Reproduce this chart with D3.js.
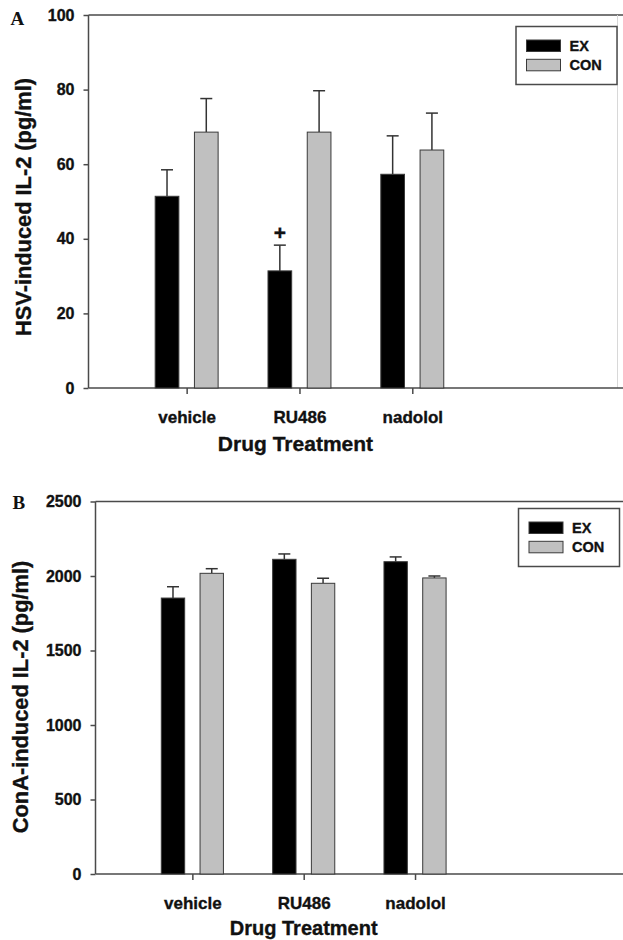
<!DOCTYPE html>
<html>
<head>
<meta charset="utf-8">
<script src="https://cdn.jsdelivr.net/npm/d3@7"></script>
<style>
  html, body { margin: 0; padding: 0; background: #fff; }
  svg { display: block; }
  text { font-family: Arial, "Liberation Sans", Helvetica, sans-serif; font-weight: bold; fill: #111; }
  .heavy { stroke: #111; stroke-width: 0.35px; }
</style>
</head>
<body>
<script>
// ---------- data ----------
const categories = ["vehicle", "RU486", "nadolol"];
const seriesNames = ["EX", "CON"];

const hsvEX = [51.4, 31.4, 57.3];
const hsvEXerr = [7.1, 6.9, 10.3];
const hsvCON = [68.6, 68.6, 63.8];
const hsvCONerr = [9.0, 11.1, 9.9];

const conaEX = [1852, 2112, 2096];
const conaEXerr = [76, 36, 32];
const conaCON = [2018, 1951, 1987];
const conaCONerr = [31, 34, 13];

const hsvTicks = [0, 20, 40, 60, 80, 100];
const conaTicks = [0, 500, 1000, 1500, 2000, 2500];

const sigMarks = [{ panel: "A", series: "EX", category: "RU486", label: "+" }];

// ---------- drawing ----------
const W = 623, H = 940;
const svg = d3.select("body").append("svg").attr("width", W).attr("height", H);

const colors = { EX: "#000000", CON: "#c0c0c0" };
const axisColor = "#4a4a4a";

function panel(opts) {
  const g = svg.append("g");
  const { left, right, top, bottom, yMax, ticks, ex, exErr, con, conErr } = opts;

  const x = d3.scaleLinear().domain([-0.87, 3.85]).range([left, right]);
  const y = d3.scaleLinear().domain([0, yMax]).range([bottom, top]);
  const unit = x(1) - x(0);
  const barW = 0.21 * unit;
  const off = 0.174 * unit;

  // frame: top line
  g.append("line").attr("x1", left).attr("x2", W).attr("y1", top).attr("y2", top)
    .attr("stroke", axisColor).attr("stroke-width", 1.5);
  if (opts.rightBorder) {
    g.append("line").attr("x1", opts.rightBorder).attr("x2", opts.rightBorder)
      .attr("y1", top).attr("y2", bottom).attr("stroke", "#d8d8d8").attr("stroke-width", 1);
  }

  // y axis
  const yAxis = d3.axisLeft(y).tickValues(ticks).tickSize(5).tickPadding(9).tickFormat(d3.format("d"));
  const ya = g.append("g").attr("transform", `translate(${left},0)`).call(yAxis);
  ya.select(".domain").attr("stroke", axisColor).attr("stroke-width", 1.5)
    .attr("d", `M0,${top}V${bottom}`);
  ya.selectAll(".tick line").attr("stroke", axisColor).attr("stroke-width", 1.5);
  ya.selectAll(".tick text").attr("font-size", 16).attr("font-family", "Arial, 'Liberation Sans', sans-serif")
    .attr("font-weight", "bold").attr("fill", "#111").attr("class", "heavy");

  // x axis
  const xAxis = d3.axisBottom(x).tickValues(d3.range(categories.length)).tickSize(6)
    .tickPadding(12).tickFormat(i => categories[i]);
  const xa = g.append("g").attr("transform", `translate(0,${bottom})`).call(xAxis);
  xa.select(".domain").attr("stroke", axisColor).attr("stroke-width", 1.5)
    .attr("d", `M${left},0H${W}`);
  xa.selectAll(".tick line").attr("stroke", axisColor).attr("stroke-width", 1.5);
  xa.selectAll(".tick text").attr("font-size", 17).attr("font-family", "Arial, 'Liberation Sans', sans-serif")
    .attr("font-weight", "bold").attr("fill", "#111").attr("dy", "1.02em").attr("class", "heavy");

  // bars
  const rows = [];
  categories.forEach((c, i) => {
    rows.push({ s: "EX", i, v: ex[i], e: exErr[i], dx: -off });
    rows.push({ s: "CON", i, v: con[i], e: conErr[i], dx: off });
  });

  // error bars (drawn first so bar top edge overlays)
  const eb = g.append("g");
  rows.forEach(r => {
    const cx = x(r.i) + r.dx;
    eb.append("line").attr("x1", cx).attr("x2", cx).attr("y1", y(r.v)).attr("y2", y(r.v + r.e))
      .attr("stroke", "#333").attr("stroke-width", 1.5);
    eb.append("line").attr("x1", cx - 6).attr("x2", cx + 6).attr("y1", y(r.v + r.e)).attr("y2", y(r.v + r.e))
      .attr("stroke", "#333").attr("stroke-width", 1.5);
  });

  g.append("g").selectAll("rect").data(rows).join("rect")
    .attr("x", r => x(r.i) + r.dx - barW / 2)
    .attr("width", barW)
    .attr("y", r => y(r.v))
    .attr("height", r => y(0) - y(r.v))
    .attr("fill", r => colors[r.s])
    .attr("stroke", "#3a3a3a").attr("stroke-width", 1);

  // significance marks
  sigMarks.filter(m => m.panel === opts.name).forEach(m => {
    const i = categories.indexOf(m.category);
    const r = rows.find(rr => rr.i === i && rr.s === m.series);
    g.append("text").attr("x", x(i) + r.dx).attr("y", y(r.v + r.e) - 5)
      .attr("text-anchor", "middle").attr("font-size", 21).attr("class", "heavy").text(m.label);
  });

  // x title
  g.append("text").attr("x", x(1) + opts.xTitleDx).attr("y", opts.xTitleY)
    .attr("text-anchor", "middle").attr("font-size", opts.xTitleSize).attr("class", "heavy").text("Drug Treatment");

  // y title
  g.append("text")
    .attr("transform", `translate(${opts.yTitleX},${opts.yTitleCY}) rotate(-90)`)
    .attr("text-anchor", "middle").attr("font-size", 21.8).attr("class", "heavy").text(opts.yTitle);

  // panel letter
  g.append("text").attr("x", opts.letterX).attr("y", opts.letterY)
    .style("font-family", "'Liberation Serif', 'Times New Roman', serif")
    .attr("font-size", 19).text(opts.name);

  // legend
  const L = opts.legend;
  g.append("rect").attr("x", L.x).attr("y", L.y).attr("width", 101).attr("height", 58)
    .attr("fill", "#fff").attr("stroke", axisColor).attr("stroke-width", 1.5);
  seriesNames.forEach((s, k) => {
    const sy = L.y + 13.5 + k * 19.3;
    g.append("rect").attr("x", L.x + 10.5).attr("y", sy).attr("width", 34).attr("height", 11.5)
      .attr("fill", colors[s]).attr("stroke", "#3a3a3a").attr("stroke-width", 1);
    g.append("text").attr("x", L.x + 53.5).attr("y", sy + 5.75).attr("dy", "0.36em")
      .attr("font-size", 14.5).attr("class", "heavy").text(s);
  });
}

panel({
  name: "A", left: 88.5, right: 621, top: 15, bottom: 388, yMax: 100, ticks: hsvTicks,
  ex: hsvEX, exErr: hsvEXerr, con: hsvCON, conErr: hsvCONerr,
  xTitleY: 451, xTitleSize: 21, xTitleDx: -4, yTitle: "HSV-induced IL-2 (pg/ml)", yTitleX: 30.5, yTitleCY: 207,
  letterX: 10.5, letterY: 25, legend: { x: 516, y: 26.5 }, rightBorder: 617.5
});

panel({
  name: "B", left: 95.5, right: 621, top: 501.5, bottom: 874, yMax: 2500, ticks: conaTicks,
  ex: conaEX, exErr: conaEXerr, con: conaCON, conErr: conaCONerr,
  xTitleY: 935, xTitleSize: 20, xTitleDx: 0, yTitle: "ConA-induced IL-2 (pg/ml)", yTitleX: 28, yTitleCY: 697,
  letterX: 12.5, letterY: 509, legend: { x: 518.5, y: 508.5 }
});
</script>
</body>
</html>
